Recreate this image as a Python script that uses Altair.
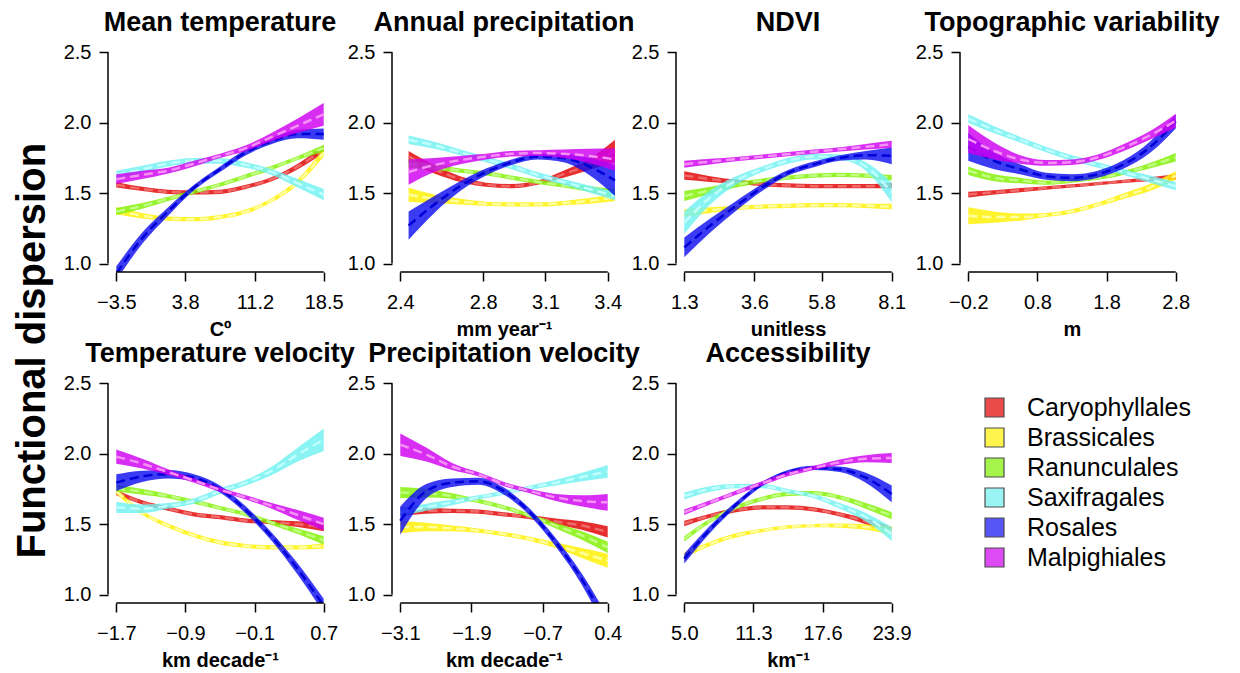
import altair as alt
import numpy as np
import pandas as pd

ORDERS = ["Caryophyllales", "Brassicales", "Ranunculales", "Saxifragales", "Rosales", "Malpighiales"]
BAND_COLORS = ["#E00000", "#FFF000", "#80F000", "#70F0F0", "#1010F0", "#D000F0"]
DASH_COLORS = ["#F06A6A", "#FFFFA0", "#C0FF80", "#C0FFFF", "#0000D8", "#F590F5"]

PANEL_TITLES = ["Mean temperature", "Annual precipitation", "NDVI", "Topographic variability",
                "Temperature velocity", "Precipitation velocity", "Accessibility"]
X_TITLES = ["Cº", "mm year⁻¹", "unitless", "m", "km decade⁻¹", "km decade⁻¹", "km⁻¹"]
X_TICKS = [[-3.5, 3.8, 11.2, 18.5], [2.4, 2.8, 3.1, 3.4], [1.3, 3.6, 5.8, 8.1], [-0.2, 0.8, 1.8, 2.8],
           [-1.7, -0.9, -0.1, 0.7], [-3.1, -1.9, -0.7, 0.4], [5.0, 11.3, 17.6, 23.9]]
X_DATA_RANGE = [[-3.5, 18.5], [2.44, 3.435], [1.3, 8.1], [-0.2, 2.8],
                [-1.7, 0.7], [-3.1, 0.4], [5.0, 23.9]]
Y_TICKS = [1.0, 1.5, 2.0, 2.5]

# fitted values at 9 evenly spaced points across each predictor's range
mean_temp_fit = {
    "Caryophyllales": [1.56, 1.53, 1.51, 1.505, 1.51, 1.545, 1.60, 1.69, 1.81],
    "Brassicales": [1.375, 1.34, 1.32, 1.315, 1.33, 1.37, 1.45, 1.58, 1.79],
    "Ranunculales": [1.37, 1.41, 1.46, 1.51, 1.56, 1.62, 1.68, 1.75, 1.82],
    "Saxifragales": [1.63, 1.67, 1.71, 1.73, 1.73, 1.70, 1.65, 1.57, 1.49],
    "Rosales": [0.93, 1.18, 1.37, 1.54, 1.67, 1.79, 1.87, 1.92, 1.92],
    "Malpighiales": [1.60, 1.63, 1.66, 1.71, 1.765, 1.82, 1.90, 1.98, 2.06],
}
mean_temp_hw = {
    "Caryophyllales": [0.02, 0.015, 0.015, 0.015, 0.015, 0.015, 0.015, 0.02, 0.025],
    "Brassicales": [0.025, 0.02, 0.015, 0.015, 0.015, 0.015, 0.015, 0.02, 0.03],
    "Ranunculales": [0.025, 0.02, 0.015, 0.015, 0.015, 0.015, 0.015, 0.015, 0.025],
    "Saxifragales": [0.03, 0.025, 0.02, 0.02, 0.02, 0.02, 0.02, 0.03, 0.04],
    "Rosales": [0.05, 0.04, 0.03, 0.02, 0.02, 0.02, 0.02, 0.03, 0.04],
    "Malpighiales": [0.035, 0.03, 0.02, 0.02, 0.015, 0.02, 0.03, 0.05, 0.08],
}
precip_fit = {
    "Caryophyllales": [1.76, 1.67, 1.60, 1.56, 1.55, 1.575, 1.635, 1.705, 1.80],
    "Brassicales": [1.49, 1.46, 1.44, 1.425, 1.42, 1.42, 1.43, 1.445, 1.47],
    "Ranunculales": [1.71, 1.685, 1.66, 1.64, 1.61, 1.58, 1.555, 1.53, 1.50],
    "Saxifragales": [1.88, 1.84, 1.79, 1.74, 1.69, 1.63, 1.58, 1.53, 1.48],
    "Rosales": [1.27, 1.42, 1.55, 1.65, 1.72, 1.76, 1.75, 1.69, 1.59],
    "Malpighiales": [1.65, 1.70, 1.735, 1.76, 1.78, 1.785, 1.78, 1.765, 1.74],
}
precip_hw = {
    "Caryophyllales": [0.04, 0.03, 0.02, 0.015, 0.015, 0.015, 0.025, 0.04, 0.08],
    "Brassicales": [0.05, 0.03, 0.02, 0.015, 0.015, 0.015, 0.015, 0.02, 0.025],
    "Ranunculales": [0.03, 0.02, 0.015, 0.015, 0.015, 0.015, 0.015, 0.02, 0.03],
    "Saxifragales": [0.03, 0.025, 0.02, 0.02, 0.02, 0.02, 0.02, 0.025, 0.03],
    "Rosales": [0.1, 0.06, 0.035, 0.025, 0.02, 0.02, 0.03, 0.06, 0.11],
    "Malpighiales": [0.09, 0.05, 0.03, 0.02, 0.02, 0.02, 0.03, 0.05, 0.08],
}
ndvi_fit = {
    "Caryophyllales": [1.625, 1.60, 1.58, 1.565, 1.555, 1.55, 1.55, 1.55, 1.555],
    "Brassicales": [1.36, 1.38, 1.395, 1.405, 1.41, 1.415, 1.415, 1.41, 1.405],
    "Ranunculales": [1.48, 1.52, 1.56, 1.59, 1.61, 1.625, 1.63, 1.625, 1.61],
    "Saxifragales": [1.29, 1.47, 1.59, 1.67, 1.73, 1.76, 1.755, 1.69, 1.505],
    "Rosales": [1.115, 1.27, 1.41, 1.54, 1.645, 1.705, 1.75, 1.77, 1.765],
    "Malpighiales": [1.706, 1.724, 1.742, 1.76, 1.777, 1.795, 1.812, 1.83, 1.848],
}
ndvi_hw = {
    "Caryophyllales": [0.03, 0.02, 0.015, 0.015, 0.015, 0.015, 0.015, 0.015, 0.02],
    "Brassicales": [0.025, 0.02, 0.015, 0.015, 0.015, 0.015, 0.015, 0.015, 0.02],
    "Ranunculales": [0.035, 0.025, 0.02, 0.015, 0.015, 0.015, 0.015, 0.015, 0.02],
    "Saxifragales": [0.08, 0.05, 0.03, 0.02, 0.02, 0.02, 0.02, 0.03, 0.07],
    "Rosales": [0.07, 0.05, 0.035, 0.025, 0.02, 0.02, 0.02, 0.03, 0.06],
    "Malpighiales": [0.025, 0.02, 0.015, 0.015, 0.015, 0.015, 0.015, 0.02, 0.025],
}
topo_fit = {
    "Caryophyllales": [1.49, 1.506, 1.521, 1.537, 1.552, 1.568, 1.584, 1.599, 1.615],
    "Brassicales": [1.34, 1.33, 1.33, 1.345, 1.37, 1.42, 1.48, 1.54, 1.625],
    "Ranunculales": [1.66, 1.61, 1.59, 1.575, 1.59, 1.61, 1.645, 1.695, 1.755],
    "Saxifragales": [2.03, 1.95, 1.88, 1.81, 1.75, 1.70, 1.65, 1.60, 1.55],
    "Rosales": [1.83, 1.73, 1.67, 1.62, 1.61, 1.635, 1.705, 1.825, 2.01],
    "Malpighiales": [1.885, 1.80, 1.74, 1.715, 1.72, 1.755, 1.825, 1.91, 2.015],
}
topo_hw = {
    "Caryophyllales": [0.02, 0.015, 0.015, 0.012, 0.012, 0.012, 0.012, 0.015, 0.02],
    "Brassicales": [0.06, 0.04, 0.025, 0.015, 0.015, 0.015, 0.02, 0.025, 0.03],
    "Ranunculales": [0.03, 0.025, 0.02, 0.015, 0.015, 0.015, 0.015, 0.02, 0.03],
    "Saxifragales": [0.03, 0.025, 0.02, 0.02, 0.02, 0.02, 0.02, 0.025, 0.03],
    "Rosales": [0.1, 0.06, 0.035, 0.025, 0.025, 0.025, 0.03, 0.04, 0.05],
    "Malpighiales": [0.1, 0.06, 0.03, 0.02, 0.02, 0.02, 0.025, 0.03, 0.05],
}
temp_vel_fit = {
    "Caryophyllales": [1.725, 1.655, 1.61, 1.57, 1.55, 1.525, 1.515, 1.50, 1.48],
    "Brassicales": [1.735, 1.58, 1.49, 1.42, 1.37, 1.345, 1.335, 1.335, 1.345],
    "Ranunculales": [1.755, 1.73, 1.70, 1.66, 1.615, 1.57, 1.51, 1.45, 1.385],
    "Saxifragales": [1.62, 1.61, 1.63, 1.665, 1.735, 1.795, 1.88, 1.995, 2.10],
    "Rosales": [1.795, 1.84, 1.855, 1.83, 1.75, 1.60, 1.41, 1.18, 0.92],
    "Malpighiales": [1.98, 1.93, 1.87, 1.81, 1.745, 1.69, 1.63, 1.565, 1.50],
}
temp_vel_hw = {
    "Caryophyllales": [0.02, 0.015, 0.015, 0.015, 0.015, 0.015, 0.015, 0.02, 0.03],
    "Brassicales": [0.02, 0.015, 0.015, 0.015, 0.015, 0.015, 0.015, 0.015, 0.02],
    "Ranunculales": [0.025, 0.02, 0.015, 0.015, 0.015, 0.015, 0.015, 0.02, 0.03],
    "Saxifragales": [0.04, 0.03, 0.02, 0.02, 0.02, 0.02, 0.03, 0.05, 0.08],
    "Rosales": [0.06, 0.04, 0.03, 0.025, 0.025, 0.025, 0.03, 0.04, 0.05],
    "Malpighiales": [0.05, 0.035, 0.02, 0.015, 0.015, 0.015, 0.02, 0.035, 0.045],
}
prec_vel_fit = {
    "Caryophyllales": [1.59, 1.595, 1.595, 1.59, 1.57, 1.55, 1.52, 1.49, 1.445],
    "Brassicales": [1.48, 1.48, 1.47, 1.455, 1.43, 1.395, 1.35, 1.295, 1.24],
    "Ranunculales": [1.725, 1.72, 1.70, 1.665, 1.62, 1.56, 1.49, 1.42, 1.335],
    "Saxifragales": [1.585, 1.62, 1.655, 1.69, 1.725, 1.76, 1.795, 1.835, 1.875],
    "Rosales": [1.525, 1.735, 1.795, 1.805, 1.735, 1.585, 1.37, 1.11, 0.78],
    "Malpighiales": [2.065, 1.995, 1.91, 1.855, 1.785, 1.735, 1.69, 1.665, 1.655],
}
prec_vel_hw = {
    "Caryophyllales": [0.03, 0.02, 0.015, 0.015, 0.015, 0.015, 0.02, 0.03, 0.04],
    "Brassicales": [0.045, 0.03, 0.02, 0.015, 0.015, 0.015, 0.02, 0.035, 0.05],
    "Ranunculales": [0.04, 0.03, 0.02, 0.015, 0.015, 0.015, 0.02, 0.03, 0.04],
    "Saxifragales": [0.03, 0.025, 0.02, 0.015, 0.015, 0.015, 0.02, 0.03, 0.045],
    "Rosales": [0.1, 0.05, 0.03, 0.025, 0.025, 0.025, 0.03, 0.04, 0.06],
    "Malpighiales": [0.08, 0.05, 0.025, 0.015, 0.015, 0.015, 0.025, 0.04, 0.06],
}
access_fit = {
    "Caryophyllales": [1.505, 1.56, 1.60, 1.62, 1.62, 1.605, 1.57, 1.52, 1.455],
    "Brassicales": [1.28, 1.36, 1.42, 1.455, 1.48, 1.49, 1.49, 1.48, 1.455],
    "Ranunculales": [1.395, 1.525, 1.62, 1.68, 1.715, 1.72, 1.69, 1.63, 1.56],
    "Saxifragales": [1.70, 1.75, 1.77, 1.77, 1.735, 1.70, 1.63, 1.55, 1.43],
    "Rosales": [1.255, 1.465, 1.64, 1.785, 1.87, 1.90, 1.89, 1.83, 1.715],
    "Malpighiales": [1.585, 1.655, 1.725, 1.79, 1.855, 1.90, 1.94, 1.965, 1.97],
}
access_hw = {
    "Caryophyllales": [0.02, 0.015, 0.015, 0.015, 0.015, 0.015, 0.015, 0.02, 0.025],
    "Brassicales": [0.02, 0.015, 0.015, 0.012, 0.012, 0.012, 0.015, 0.02, 0.03],
    "Ranunculales": [0.02, 0.015, 0.015, 0.015, 0.015, 0.015, 0.015, 0.02, 0.025],
    "Saxifragales": [0.025, 0.02, 0.015, 0.015, 0.015, 0.015, 0.02, 0.03, 0.05],
    "Rosales": [0.035, 0.025, 0.02, 0.015, 0.015, 0.015, 0.02, 0.035, 0.06],
    "Malpighiales": [0.02, 0.015, 0.015, 0.015, 0.015, 0.015, 0.02, 0.025, 0.035],
}

FITS = [mean_temp_fit, precip_fit, ndvi_fit, topo_fit, temp_vel_fit, prec_vel_fit, access_fit]
HWS = [mean_temp_hw, precip_hw, ndvi_hw, topo_hw, temp_vel_hw, prec_vel_hw, access_hw]

W, H = 224, 228
FONT = "Liberation Sans"

cscale = alt.Scale(domain=ORDERS, range=BAND_COLORS)
legend = alt.Legend(orient="none", legendX=874, legendY=351, title=None, symbolType="square",
                    symbolSize=361, symbolStrokeColor="black", symbolStrokeWidth=1.2,
                    symbolOpacity=0.7, labelFontSize=25, labelFont=FONT, labelColor="black",
                    rowPadding=4, labelOffset=20, labelLimit=300)


def panel(i):
    ticks = X_TICKS[i]
    lo_x, hi_x = X_DATA_RANGE[i]
    xs = np.linspace(lo_x, hi_x, 9)
    rows = []
    for name in ORDERS:
        for x, f, h in zip(xs, FITS[i][name], HWS[i][name]):
            rows.append({"x": x, "fit": f, "lo": f - h, "hi": f + h, "order": name})
    df = pd.DataFrame(rows)
    span = ticks[-1] - ticks[0]
    xscale = alt.Scale(domain=[ticks[0] - 0.04 * span, ticks[-1] + 0.04 * span], nice=False, zero=False)
    yscale = alt.Scale(domain=[0.94, 2.56], nice=False, zero=False)
    xaxis = alt.Axis(values=ticks, format=".1f", title=X_TITLES[i])
    yaxis = alt.Axis(values=Y_TICKS, format=".1f", title=None)
    base = alt.Chart(df)
    layers = []
    for k, name in enumerate(ORDERS):
        sub = base.transform_filter(alt.datum.order == name)
        layers.append(
            sub.mark_area(clip=True, opacity=0.82, interpolate="monotone").encode(
                x=alt.X("x:Q", scale=xscale, axis=xaxis),
                y=alt.Y("lo:Q", scale=yscale, axis=yaxis),
                y2="hi:Q",
                fill=alt.Fill("order:N", scale=cscale, legend=legend),
            )
        )
        layers.append(
            sub.mark_line(clip=True, interpolate="monotone", color=DASH_COLORS[k],
                          strokeWidth=2.5, strokeDash=[9, 5]).encode(
                x=alt.X("x:Q", scale=xscale, axis=xaxis),
                y=alt.Y("fit:Q", scale=yscale, axis=yaxis),
            )
        )
    rx = alt.Chart(pd.DataFrame({"a": [ticks[0]], "b": [ticks[-1]]})).mark_rule(
        color="black", strokeWidth=1.5).encode(
        x=alt.X("a:Q", scale=xscale, axis=xaxis), x2="b:Q", y=alt.value(H))
    ry = alt.Chart(pd.DataFrame({"a": [Y_TICKS[0]], "b": [Y_TICKS[-1]]})).mark_rule(
        color="black", strokeWidth=1.5).encode(
        y=alt.Y("a:Q", scale=yscale, axis=yaxis), y2="b:Q", x=alt.value(0))
    return alt.layer(*layers, rx, ry).properties(
        width=W, height=H,
        title=alt.TitleParams(PANEL_TITLES[i], fontSize=27, fontWeight="bold", font=FONT,
                              anchor="middle", offset=5, color="black"))


chart = alt.concat(*[panel(i) for i in range(7)], columns=4,
                   spacing={"row": 103, "column": 60}, bounds="flush").properties(
    title=alt.TitleParams("Functional dispersion", orient="left", anchor="middle", fontSize=40,
                          fontWeight="bold", font=FONT, color="black", offset=10, dx=-11),
    padding={"left": 5, "top": 1, "right": 5, "bottom": 5},
).configure_view(stroke=None).configure_axis(
    domain=False, grid=False, ticks=True, tickSize=9, tickWidth=1.5, tickColor="black",
    labelFont=FONT, labelFontSize=20, labelColor="black", labelPadding=11,
    titleFont=FONT, titleFontSize=20, titleFontWeight="bold", titleColor="black", titlePadding=7,
).configure_axisY(labelPadding=8)

chart.save("out.html", embed_options={"renderer": "svg", "actions": False})
